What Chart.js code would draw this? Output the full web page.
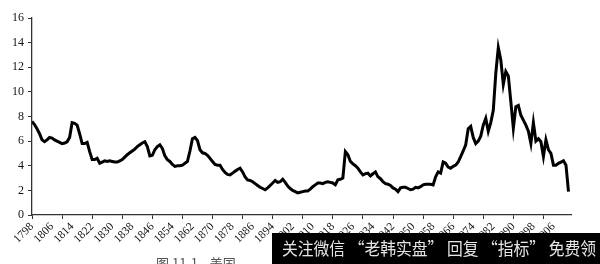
<!DOCTYPE html>
<html>
<head>
<meta charset="utf-8">
<script src="https://cdn.jsdelivr.net/npm/chart.js@4.4.1/dist/chart.umd.min.js"></script>
<style>
  html, body { margin: 0; padding: 0; background: #fff; }
  #wrap { width: 600px; height: 264px; position: relative; }
</style>
</head>
<body>
<div id="wrap"><canvas id="rateCanvas" width="600" height="264"></canvas></div>
<script>
// Yearly values, first year 1798
const firstYear = 1798;
const rates = [
  7.6, 7.35, 7.0, 6.6, 6.1, 5.95, 6.1, 6.3, 6.25, 6.1,          // 1798-1807
  6.0, 5.9, 5.8, 5.85, 5.95, 6.3, 7.5, 7.45, 7.3, 6.6,          // 1808-1817
  5.8, 5.8, 5.9, 5.15, 4.5, 4.5, 4.6, 4.2, 4.3, 4.4,            // 1818-1827
  4.35, 4.4, 4.35, 4.3, 4.3, 4.4, 4.5, 4.7, 4.9, 5.05,          // 1828-1837
  5.2, 5.35, 5.55, 5.7, 5.85, 5.95, 5.55, 4.8, 4.85, 5.3,       // 1838-1847
  5.55, 5.7, 5.4, 4.8, 4.5, 4.35, 4.1, 3.95, 4.0, 4.0,          // 1848-1857
  4.05, 4.2, 4.35, 5.2, 6.2, 6.3, 6.05, 5.3, 5.05, 5.0,         // 1858-1867
  4.85, 4.6, 4.35, 4.1, 4.05, 4.05, 3.7, 3.45, 3.3, 3.25,       // 1868-1877
  3.4, 3.55, 3.7, 3.8, 3.5, 3.1, 2.85, 2.8, 2.7, 2.55,          // 1878-1887
  2.4, 2.25, 2.15, 2.05, 2.2, 2.4, 2.6, 2.8, 2.65, 2.7,         // 1888-1897
  2.9, 2.65, 2.35, 2.15, 2.0, 1.9, 1.8, 1.85, 1.9, 1.95,        // 1898-1907
  1.95, 2.1, 2.3, 2.45, 2.6, 2.6, 2.55, 2.65, 2.7, 2.65,        // 1908-1917
  2.6, 2.45, 2.85, 2.9, 3.0, 5.15, 4.9, 4.35, 4.15, 4.0,        // 1918-1927
  3.8, 3.5, 3.25, 3.35, 3.4, 3.17, 3.35, 3.5, 3.1, 2.95,        // 1928-1937
  2.7, 2.55, 2.5, 2.4, 2.2, 2.1, 1.9, 2.2, 2.25, 2.25,          // 1938-1947
  2.15, 2.05, 2.1, 2.25, 2.2, 2.3, 2.45, 2.5, 2.5, 2.5,         // 1948-1957
  2.45, 3.1, 3.5, 3.4, 4.3, 4.2, 3.9, 3.8, 3.95, 4.05,          // 1958-1967
  4.3, 4.75, 5.2, 5.7, 7.0, 7.2, 6.3, 5.8, 6.0, 6.4,            // 1968-1977
  7.3, 7.85, 6.8, 7.5, 8.5, 11.5, 13.6, 12.6, 10.6, 11.65,      // 1978-1987
  11.3, 9.2, 7.05, 8.8, 8.9, 8.1, 7.7, 7.3, 6.8, 5.8,           // 1988-1997
  7.5, 6.0, 6.2, 5.95, 4.75, 6.1, 5.3, 5.0, 4.05, 4.05,         // 1998-2007
  4.2, 4.3, 4.4, 4.05, 1.9                                      // 2008-2012
];

// x tick labels every 8 years, tick marks every 12 years
const labelYears = [1798, 1806, 1814, 1822, 1830, 1838, 1846, 1854, 1862, 1870,
  1878, 1886, 1894, 1902, 1910, 1918, 1926, 1934, 1942, 1950, 1958, 1966, 1974,
  1982, 1990, 1998, 2006];
const markYears = [1798, 1810, 1822, 1834, 1846, 1858, 1870, 1882, 1894, 1906,
  1918, 1930, 1942, 1954, 1966, 1978, 1990, 2002];
const yTicks = [0, 2, 4, 6, 8, 10, 12, 14, 16];

const points = rates.map((v, i) => ({ x: firstYear + i, y: v }));
const allTicks = Array.from(new Set(labelYears.concat(markYears))).sort((a, b) => a - b);

// black watermark strip and the cut-off caption at the bottom
const overlayPlugin = {
  id: 'overlay',
  afterDraw(chart) {
    const c = chart.ctx;
    c.save();
    c.fillStyle = '#555';
    c.font = '13px "Noto Sans CJK SC"';
    c.textBaseline = 'top';
    c.fillText('图 11-1    美国', 156, 257);
    c.fillStyle = '#000';
    c.fillRect(272, 233, 328, 31);
    c.fillStyle = '#e6e6e6';
    c.font = '17px "Noto Sans CJK SC"';
    c.textBaseline = 'middle';
    const txt = '关注微信 “老韩实盘” 回复 “指标” 免费领';
    const w = c.measureText(txt).width;
    c.translate(282, 249);
    c.scale(314 / w, 1);
    c.fillText(txt, 0, 0);
    c.restore();
  }
};

const ctx = document.getElementById('rateCanvas').getContext('2d');
const rateChart = new Chart(ctx, {
  type: 'line',
  data: {
    datasets: [{
      data: points,
      borderColor: '#000',
      borderWidth: 3,
      pointRadius: 0,
      tension: 0,
      fill: false
    }]
  },
  options: {
    responsive: false,
    animation: false,
    layout: { padding: { top: 18, right: 29, left: 0, bottom: 0 } },
    plugins: { legend: { display: false }, tooltip: { enabled: false } },
    scales: {
      x: {
        type: 'linear',
        min: 1798,
        max: 2013,
        afterBuildTicks: scale => { scale.ticks = allTicks.map(v => ({ value: v })); },
        afterFit: scale => { scale.height = 49; },
        ticks: {
          autoSkip: false,
          minRotation: 45,
          maxRotation: 45,
          padding: 1,
          color: '#111',
          font: { family: 'Liberation Serif', size: 11.5 },
          callback: v => labelYears.includes(v) ? String(v) : ''
        },
        grid: {
          drawOnChartArea: false,
          tickLength: 4,
          tickColor: c => (c.tick && markYears.includes(c.tick.value)) ? '#333' : 'rgba(0,0,0,0)'
        },
        border: { display: true, color: '#333', width: 1.3 }
      },
      y: {
        min: 0,
        max: 16,
        afterBuildTicks: scale => { scale.ticks = yTicks.map(v => ({ value: v })); },
        afterFit: scale => { scale.width = 32; },
        ticks: {
          padding: 4,
          color: '#111',
          font: { family: 'Liberation Serif', size: 12 }
        },
        grid: { drawOnChartArea: false, tickLength: 4, tickColor: '#333' },
        border: { display: true, color: '#333', width: 1.3 }
      }
    }
  },
  plugins: [overlayPlugin]
});
</script>
</body>
</html>
